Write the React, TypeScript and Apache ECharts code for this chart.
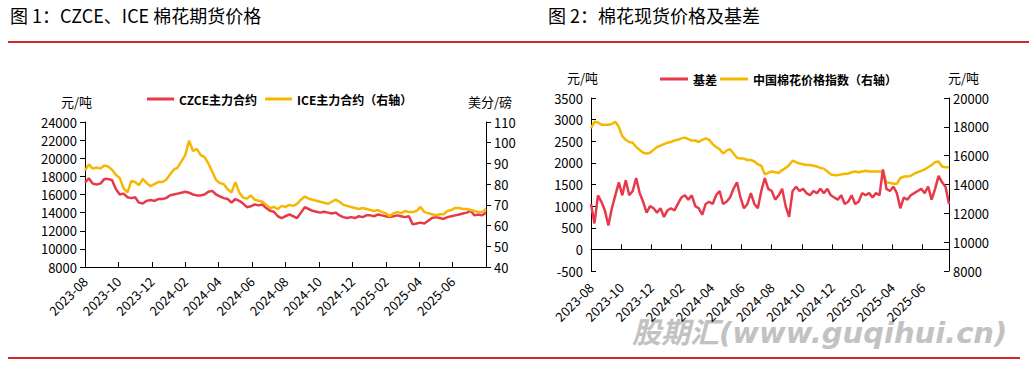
import React, { useEffect, useRef } from "react";
import * as echarts from "echarts";

// ---- Data (weekly readings) ----
// Figure 1: CZCE main contract (yuan/ton), ICE main contract (US cents/lb, right axis)
const czce = [
  17300, 17800, 17200, 17100, 17200, 17700, 17700, 17600, 16600, 16000,
  16100, 15700, 15600, 15700, 15100, 15000, 15300, 15400, 15300, 15500,
  15500, 15600, 15900, 16000, 16100, 16200, 16300, 16200, 16000, 15900,
  15900, 16000, 16300, 16400, 16000, 15800, 15600, 15500, 15100, 15500,
  15300, 15000, 14600, 14700, 14900, 14800, 14900, 14500, 14200, 14100,
  13600, 13400, 13600, 13800, 13600, 13400, 14000, 14600, 14400, 14200,
  14100, 14000, 14100, 14000, 13900, 14000, 13700, 13500, 13400, 13500,
  13400, 13600, 13500, 13700, 13700, 13600, 13800, 13700, 13600, 13500,
  13600, 13700, 13600, 13500, 13600, 12700, 12800, 12900, 12800, 13100,
  13400, 13500, 13400, 13300, 13500, 13600, 13700, 13800, 13900, 14000,
  14200, 13700, 13800, 13700, 14000,
];
const ice = [
  86.5, 89.5, 87.5, 88, 87.5, 89, 88.5, 87, 84.5, 83,
  78, 76, 81.5, 81, 79.5, 82.5, 80.5, 79, 80, 81,
  81, 82, 84.5, 87, 88, 91, 94, 101, 96, 97,
  94, 93, 90, 86, 82, 80.5, 80, 77.5, 76, 81,
  76, 73.5, 73, 74.5, 72.5, 72, 71.5, 70, 68.5, 69,
  68, 69.5, 69, 70, 69.5, 70.5, 72.5, 74, 73, 72.5,
  72, 71.5, 71, 70.5, 71.5, 72.5, 71.5, 70, 69.5, 69,
  68.5, 68, 68.5, 68, 67.5, 67, 67.5, 66.5, 66, 64.5,
  66, 66.5, 66, 67, 66.5, 66.5, 67, 69, 66.5, 66,
  65.5, 65, 65.5, 65.5, 67, 67.5, 68.5, 68.5, 68, 68,
  67.5, 67, 66.5, 66.5, 68,
];
// Figure 2: basis (yuan/ton), China cotton price index (yuan/ton, right axis)
const basis = [
  1050, 600, 1250, 1100, 900, 550, 950, 1250, 1550, 1250,
  1600, 1250, 1350, 1650, 1300, 1100, 850, 1000, 950, 850,
  950, 750, 900, 950, 900, 1050, 1200, 1250, 1150, 1250,
  1000, 950, 800, 1050, 1100, 1050, 1250, 1350, 1050, 1100,
  1200, 1400, 1550, 1200, 950, 1050, 1300, 1050, 950, 1350,
  1650, 1400, 1350, 1150, 1250, 1400, 1000, 750, 1350, 1450,
  1350, 1400, 1300, 1250, 1350, 1300, 1400, 1300, 1400, 1250,
  1200, 1150, 1250, 1050, 1100, 1250, 1050, 1100, 1300, 1250,
  1300, 1200, 1300, 1250, 1850, 1400, 1350, 1450, 1300, 950,
  1200, 1150, 1250, 1300, 1350, 1400, 1300, 1450, 1150, 1400,
  1700, 1550, 1450, 1050,
];
const cottonIndex = [
  17900, 18350, 18300, 18150, 18150, 18150, 18200, 18350, 18000, 17350,
  17100, 16950, 16900, 16600, 16400, 16200, 16150, 16200, 16400, 16600,
  16700, 16800, 16900, 16950, 17050, 17100, 17200, 17250, 17150, 17050,
  17050, 16950, 17100, 17200, 17100, 16800, 16600, 16450, 16150, 16350,
  16450, 16150, 15850, 15800, 15800, 15700, 15700, 15600, 15400, 15300,
  14700, 14800, 14900, 14850, 14800, 15000, 15150, 15350, 15650, 15550,
  15450, 15400, 15350, 15350, 15300, 15250, 15150, 15100, 14900, 14700,
  14650, 14650, 14700, 14750, 14750, 14850, 14900, 14850, 14900, 14950,
  14900, 14900, 14900, 14900, 14900, 14150, 14100, 14050, 14050, 14450,
  14550, 14550, 14600, 14750, 14850, 14950, 15050, 15200, 15350, 15550,
  15600, 15250, 15200, 15200,
];
const tickLabels = [
  "2023-08", "2023-10", "2023-12", "2024-02", "2024-04", "2024-06",
  "2024-08", "2024-10", "2024-12", "2025-02", "2025-04", "2025-06",
];
const legend1 = ["CZCE主力合约", "ICE主力合约（右轴）"];
const legend2 = ["基差", "中国棉花价格指数（右轴）"];

const RED = "#E8394A";
const YELLOW = "#F5B800";
const FONT = "'Microsoft YaHei', 'Noto Sans CJK SC', sans-serif";
const MONTHS_PER_WEEK = 24 / 104;

const toXY = (arr: number[]) => arr.map((v, i) => [i * MONTHS_PER_WEEK, v]);

const labelFmt = (v: number) => {
  const idx = Math.round(v / 2);
  return Math.abs(v - idx * 2) < 1e-6 && tickLabels[idx] ? tickLabels[idx] : "";
};
const plain = (v: number) => String(v);

export default function App() {
  const ref = useRef<HTMLDivElement>(null);
  useEffect(() => {
    if (!ref.current) return;
    const chart = echarts.init(ref.current, null, { renderer: "svg" });
    const axisText = { color: "#000", fontSize: 13, fontFamily: FONT };
    const blackLine = { show: true, lineStyle: { color: "#000", width: 1 } };
    const rightMax = 103 * MONTHS_PER_WEEK;
    chart.setOption({
      animation: false,
      backgroundColor: "#fff",
      grid: [
        { left: 85, right: 543, top: 122, bottom: 98 },
        { left: 591, right: 80, top: 98, bottom: 94 },
      ],
      legend: [
        {
          data: legend1,
          left: 142,
          top: 88,
          icon: "rect",
          itemWidth: 27,
          itemHeight: 3,
          itemGap: 8,
          textStyle: { color: "#000", fontSize: 12, fontWeight: "bold", fontFamily: FONT },
        },
        {
          data: legend2,
          left: 655,
          top: 68,
          icon: "rect",
          itemWidth: 28,
          itemHeight: 3,
          itemGap: 3,
          textStyle: { color: "#000", fontSize: 12, fontWeight: "bold", fontFamily: FONT },
        },
      ],
      xAxis: [
        {
          gridIndex: 0,
          type: "value",
          min: 0,
          max: 24,
          interval: 2,
          axisLine: { ...blackLine, onZero: false },
          axisTick: { show: true, inside: true, length: 5, lineStyle: { color: "#000" } },
          axisLabel: { ...axisText, rotate: 45, margin: 12, formatter: labelFmt, showMaxLabel: false },
          splitLine: { show: false },
        },
        {
          gridIndex: 1,
          type: "value",
          min: 0,
          max: rightMax,
          interval: 2,
          position: "bottom",
          axisLine: { show: false, onZero: false },
          axisTick: { show: false },
          axisLabel: { ...axisText, rotate: 45, margin: 14, formatter: labelFmt, showMaxLabel: false },
          splitLine: { show: false },
        },
        {
          gridIndex: 1,
          type: "value",
          min: 0,
          max: rightMax,
          interval: 2,
          position: "bottom",
          axisLine: { ...blackLine, onZero: true, onZeroAxisIndex: 2 },
          axisTick: { show: true, inside: true, length: 5, lineStyle: { color: "#000" } },
          axisLabel: { show: false },
          splitLine: { show: false },
        },
      ],
      yAxis: [
        {
          gridIndex: 0,
          type: "value",
          min: 8000,
          max: 24000,
          interval: 2000,
          axisLine: { ...blackLine, onZero: false },
          axisTick: { show: true, length: 5, lineStyle: { color: "#000" } },
          axisLabel: { ...axisText, margin: 8, formatter: plain },
          splitLine: { show: false },
        },
        {
          gridIndex: 0,
          type: "value",
          position: "right",
          min: 40,
          max: 110,
          interval: 10,
          axisLine: { ...blackLine, onZero: false },
          axisTick: { show: true, length: 5, lineStyle: { color: "#000" } },
          axisLabel: { ...axisText, margin: 8, formatter: plain },
          splitLine: { show: false },
        },
        {
          gridIndex: 1,
          type: "value",
          min: -500,
          max: 3500,
          interval: 500,
          axisLine: { ...blackLine, onZero: false },
          axisTick: { show: true, inside: true, length: 5, lineStyle: { color: "#000" } },
          axisLabel: { ...axisText, margin: 8, formatter: plain },
          splitLine: { show: false },
        },
        {
          gridIndex: 1,
          type: "value",
          position: "right",
          min: 8000,
          max: 20000,
          interval: 2000,
          axisLine: { ...blackLine, onZero: false },
          axisTick: { show: true, inside: true, length: 5, lineStyle: { color: "#000" } },
          axisLabel: { ...axisText, margin: 4, formatter: plain },
          splitLine: { show: false },
        },
      ],
      series: [
        {
          name: legend1[0],
          type: "line",
          xAxisIndex: 0,
          yAxisIndex: 0,
          data: toXY(czce),
          showSymbol: false,
          lineStyle: { color: RED, width: 2.5 },
          itemStyle: { color: RED },
        },
        {
          name: legend1[1],
          type: "line",
          xAxisIndex: 0,
          yAxisIndex: 1,
          data: toXY(ice),
          showSymbol: false,
          lineStyle: { color: YELLOW, width: 2.5 },
          itemStyle: { color: YELLOW },
        },
        {
          name: legend2[0],
          type: "line",
          xAxisIndex: 1,
          yAxisIndex: 2,
          data: toXY(basis),
          showSymbol: false,
          z: 3,
          lineStyle: { color: RED, width: 2.5 },
          itemStyle: { color: RED },
        },
        {
          name: legend2[1],
          type: "line",
          xAxisIndex: 1,
          yAxisIndex: 3,
          data: toXY(cottonIndex),
          showSymbol: false,
          z: 2,
          lineStyle: { color: YELLOW, width: 2.5 },
          itemStyle: { color: YELLOW },
        },
      ],
      graphic: [
        {
          type: "text",
          left: 10,
          top: 6,
          style: { text: "图 1：CZCE、ICE 棉花期货价格", fontSize: 18, fontFamily: FONT, fill: "#000" },
        },
        {
          type: "text",
          left: 548,
          top: 6,
          style: { text: "图 2：棉花现货价格及基差", fontSize: 18, fontFamily: FONT, fill: "#000" },
        },
        { type: "rect", shape: { x: 8, y: 41, width: 1021, height: 2 }, style: { fill: "#D7262B" } },
        { type: "rect", shape: { x: 8, y: 357, width: 1012, height: 2 }, style: { fill: "#D7262B" } },
        {
          type: "text",
          left: 61,
          top: 95,
          style: { text: "元/吨", fontSize: 13, fontFamily: FONT, fill: "#000" },
        },
        {
          type: "text",
          left: 468,
          top: 95,
          style: { text: "美分/磅", fontSize: 13, fontFamily: FONT, fill: "#000" },
        },
        {
          type: "text",
          left: 567,
          top: 71,
          style: { text: "元/吨", fontSize: 13, fontFamily: FONT, fill: "#000" },
        },
        {
          type: "text",
          left: 948,
          top: 71,
          style: { text: "元/吨", fontSize: 13, fontFamily: FONT, fill: "#000" },
        },
        {
          type: "text",
          left: 632,
          top: 318,
          style: {
            text: "股期汇(www.guqihui.cn)",
            fontSize: 29,
            fontWeight: "bold",
            fontStyle: "italic",
            fontFamily: "'DejaVu Sans', 'Noto Sans CJK SC', sans-serif",
            fill: "#C2C2C2",
          },
        },
      ],
    });
    return () => chart.dispose();
  }, []);
  return (
    <div
      ref={ref}
      style={{ position: "fixed", left: 0, top: 0, width: 1029, height: 365, background: "#fff" }}
    />
  );
}
